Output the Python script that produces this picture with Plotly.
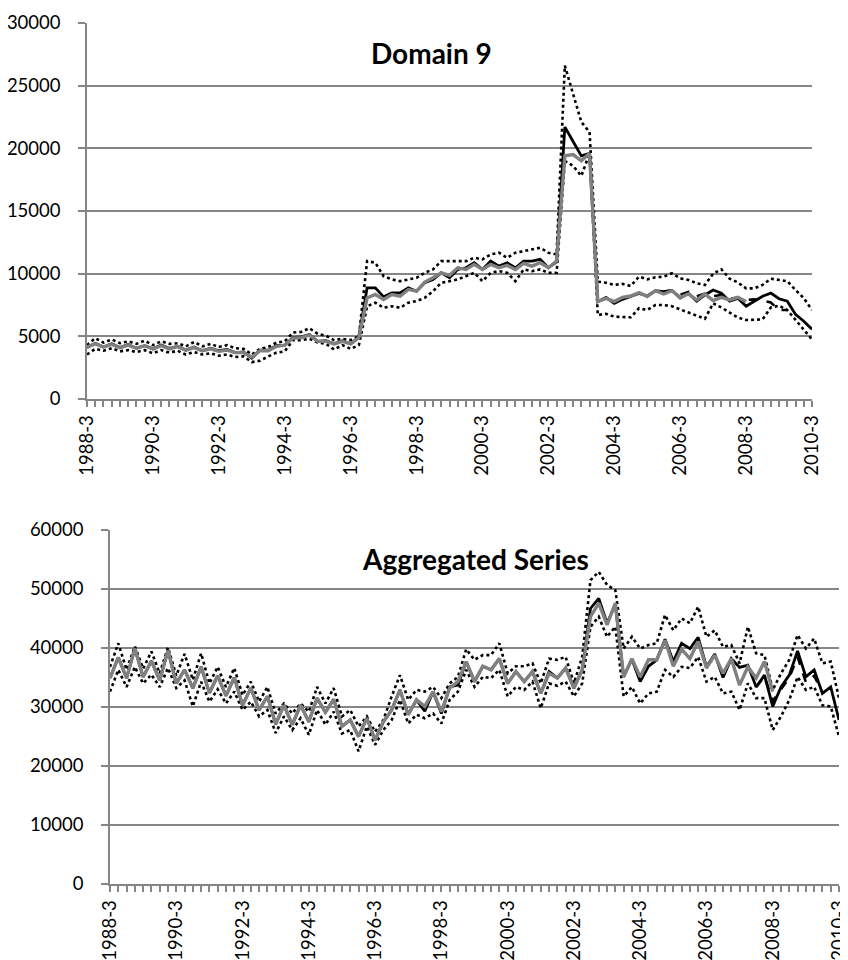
import plotly.graph_objects as go

# ---------------- categories ----------------
quarters = [f"{1988 + (q + 2) // 4}-{(q + 2) % 4 + 1}" for q in range(89)]
x_idx = list(range(len(quarters)))
label_idx = list(range(0, 89, 8))
tick_labels = [quarters[i] for i in label_idx]

# ---------------- Domain 9 ----------------
d9_black = [4100, 4450, 4150, 4400, 4100, 4350, 4050, 4250, 4000, 4300, 4050, 4200, 3900, 4150, 3850, 4050,
            3850, 3950, 3700, 3750, 3250, 3900, 3900, 4250, 4300, 4900, 4950, 5150, 4600, 4650, 4400, 4650,
            4400, 4950,
            8870, 8870, 8150, 8470, 8470, 8870, 8600, 9270, 9540, 10070, 9670, 10340, 10470, 10870, 10340,
            11000, 10600, 10870, 10470, 11000, 11000, 11140, 10470, 10930, 21700, 20500, 19400, 19600,
            7770, 8110, 7630, 7950, 8170, 8430, 8220, 8650, 8570, 8650, 8050, 8430, 7800, 8300, 8700, 8450,
            7800, 8030, 7400, 7770, 8200, 8450, 8000, 7800, 6750, 6200, 5560]
d9_gray = [4150, 4400, 4150, 4350, 4100, 4300, 4050, 4250, 4000, 4250, 4000, 4200, 3900, 4100, 3850, 4000,
           3800, 3900, 3700, 3700, 3350, 3850, 3850, 4200, 4300, 4850, 4900, 5100, 4600, 4600, 4400, 4600,
           4400, 4900,
           8070, 8340, 7940, 8340, 8200, 8740, 8600, 9330, 9670, 10070, 9860, 10470, 10340, 10740, 10340,
           10740, 10470, 10660, 10340, 10820, 10600, 10870, 10470, 11000, 19400, 19500, 19000, 19600,
           7770, 8030, 7770, 8110, 8220, 8490, 8170, 8650, 8380, 8650, 8110, 8380, 7900, 8380, 7850, 8110,
           7900, 8110, 7770] + [None] * 8
d9_upper = [4300, 4850, 4500, 4750, 4450, 4600, 4400, 4650, 4300, 4600, 4400, 4450, 4200, 4550, 4200, 4400,
            4150, 4300, 4050, 4000, 3550, 4000, 4150, 4500, 4600, 5300, 5350, 5650, 5200, 5050, 4700, 4800,
            4700, 5000,
            11000, 10870, 9800, 9540, 9400, 9540, 9670, 10070, 10340, 11000, 11000, 11000, 11000, 11270,
            11140, 11540, 11670, 11270, 11670, 11800, 11940, 12070, 11670, 11540, 26600, 24400, 22100, 21300,
            9360, 9280, 9100, 9180, 9020, 9760, 9550, 9710, 9760, 10030, 9630, 9500, 9230, 9100, 10000, 10350,
            9600, 9300, 8830, 8830, 9100, 9600, 9500, 9400, 8700, 8050, 7100]
d9_lower = [3550, 4000, 3850, 4050, 3800, 3900, 3750, 3900, 3650, 3900, 3700, 3850, 3550, 3750, 3550, 3650,
            3450, 3550, 3350, 3400, 2950, 3050, 3400, 3700, 3800, 4700, 4700, 4800, 4500, 4400, 3950, 4300,
            4000, 4300,
            7400, 7680, 7280, 7400, 7280, 7680, 7810, 8070, 8600, 9270, 9400, 9540, 9800, 10070, 9400, 10070,
            10200, 10070, 9400, 10340, 10200, 10340, 10070, 10070, 19000, 18600, 17800, 19600,
            6700, 6800, 6570, 6550, 6520, 7240, 7100, 7500, 7500, 7400, 7150, 6900, 6700, 6400, 7630, 7300,
            6900, 6500, 6300, 6300, 6350, 7300, 7450, 7100, 6300, 5500, 4750]
d9_dashed = [None] * 70 + [8570, 8650, 8300, 8550, 8200, 8400, 8200, 8300, 8000, 8100, 7900, 7950, 7850,
                           7700, 7100, 7100] + [None] * 3

# ---------------- Aggregated Series ----------------
agg_gray = [34900, 38400, 34900, 39900, 35100, 37800, 34500, 39600, 34000, 36300, 33200, 36800, 32400, 35300,
            31900, 35000, 30300, 33200, 29500, 31800, 27100, 30300, 27000, 30300, 27500, 31500, 29100, 31300,
            26700, 27800,
            25000, 28100, 24400, 27500, 29500, 32900, 28700, 31200, 30100, 32600, 29200, 33200, 34300, 37700,
            34300, 36900, 36300, 38200, 34000, 36000, 34300, 36000, 32300, 35700, 34900, 36600, 33200, 36300,
            45300, 47600, 43900, 47600, 35100, 38200, 35100, 38000, 38000, 41300, 36900, 39800, 38200, 41100,
            36600, 38800, 35700, 38200, 33700, 36800, 34900, 37700, 32600] + [None] * 8
agg_black = [34900, 38400, 34900, 39900, 35100, 37800, 34500, 39600, 34000, 36300, 33200, 36800, 32400, 35300,
             31900, 35000, 30300, 33200, 29500, 31800, 27100, 30300, 27000, 30300, 27500, 31500, 29100, 31300,
             26700, 27800,
             25000, 28100, 24400, 27500, 29500, 32900, 28700, 31200, 29300, 32600, 28900, 33400, 33700, 37700,
             34300, 36900, 36300, 38200, 34000, 36000, 34300, 36000, 32300, 36000, 34900, 36600, 33200, 36300,
             46700, 48400, 44200, 47400, 35100, 38100, 34300, 36900, 38000, 41500, 37700, 40800, 39900, 41800,
             36800, 39000, 35000, 38200, 36700, 37100, 33400, 35400, 30100, 33400, 35400, 39500, 35100, 36300,
             32300, 33400, 27800]
agg_upper = [36800, 40800, 36300, 40300, 36500, 39400, 35700, 40100, 35300, 39000, 34600, 39100, 34000, 36800,
             33400, 36600, 32000, 34300, 30900, 33400, 28900, 30600, 28900, 30600, 29200, 33400, 30600, 33200,
             28400, 29500,
             26700, 28400, 25800, 27800, 31800, 35400, 31200, 32900, 32600, 33400, 31500, 34000, 35100, 39800,
             38000, 38800, 38800, 40800, 35700, 36900, 36900, 37400, 34000, 38200, 38000, 38500, 34000, 38500,
             51500, 52900, 50700, 49800, 39900, 41900, 39900, 40500, 40800, 45600, 43000, 45000, 44200, 47000,
             41900, 43000, 40200, 40500, 37400, 43600, 39100, 38800, 32900, 35700, 38000, 42200, 39900, 41600,
             37400, 37700, 31500]
agg_lower = [32600, 36300, 33400, 36800, 34000, 35500, 33400, 36600, 33200, 34500, 30100, 34300, 30900, 33000,
             30600, 32600, 29500, 30900, 28400, 29500, 25600, 28400, 26100, 28100, 25300, 29500, 27000, 29200,
             25500, 26100,
             22500, 26700, 23600, 26100, 27800, 31200, 27200, 28700, 28100, 28900, 27200, 31200, 32600, 36300,
             33400, 35100, 34900, 36300, 31800, 33400, 32900, 34300, 29800, 34000, 33600, 34300, 31800, 34000,
             43600, 45300, 41900, 43600, 31800, 33400, 30600, 32300, 32600, 36300, 35100, 36800, 36600, 38500,
             34300, 35100, 32300, 32600, 29500, 34000, 31500, 31500, 26100, 28400, 31200, 35100, 32900, 33400,
             30300, 30100, 25000]
agg_dashed = [None] * 78 + [33400, 35200, 31000, 33000, 35000, 38500, 34200, 35300, 32500] + [None] * 2

# ---------------- styling ----------------
AXIS_GRAY = "#868686"
FONT = "Lato, Open Sans, sans-serif"

fig = go.Figure()


def add_panel(black, gray, upper, lower, dashed, xa, ya):
    common = dict(x=x_idx, mode="lines", xaxis=xa, yaxis=ya, showlegend=False, hoverinfo="skip")
    fig.add_trace(go.Scatter(y=upper, line=dict(color="black", width=2.6, dash="dot"), **common))
    fig.add_trace(go.Scatter(y=lower, line=dict(color="black", width=2.6, dash="dot"), **common))
    fig.add_trace(go.Scatter(y=dashed, line=dict(color="black", width=2.6, dash="dash"), **common))
    fig.add_trace(go.Scatter(y=black, line=dict(color="black", width=2.8), **common))
    fig.add_trace(go.Scatter(y=gray, line=dict(color="#808080", width=3.4), **common))


add_panel(d9_black, d9_gray, d9_upper, d9_lower, d9_dashed, "x", "y")
add_panel(agg_black, agg_gray, agg_upper, agg_lower, agg_dashed, "x2", "y2")

# the page body adds an 8px margin, so the figure is laid out 8px smaller and shifted
OFF = 8
W, H = 848 - OFF, 960 - OFF


def xdom(l, r):
    return [(l - OFF) / W, (r - OFF) / W]


def ydom(top, bottom):
    return [1 - (bottom - OFF) / H, 1 - (top - OFF) / H]


def px(xp, yp):
    return (xp - OFF) / W, 1 - (yp - OFF) / H


xcommon = dict(
    range=[0, 88], tickmode="array", tickvals=label_idx, ticktext=tick_labels, tickangle=-90,
    ticks="outside", ticklen=6, tickcolor=AXIS_GRAY, tickwidth=1.5, automargin=False,
    ticklabeloverflow="allow",
    showline=True, linecolor=AXIS_GRAY, linewidth=1.5, showgrid=False, zeroline=False,
    minor=dict(tick0=0, dtick=1, ticks="outside", ticklen=6, tickcolor=AXIS_GRAY, tickwidth=1.5, showgrid=False),
    tickfont=dict(family=FONT, size=18.5, color="black"), ticklabelstandoff=1,
)
ycommon = dict(
    showgrid=True, gridcolor=AXIS_GRAY, gridwidth=1.5, showline=True, linecolor=AXIS_GRAY, linewidth=1.5,
    ticks="outside", ticklen=7, tickcolor=AXIS_GRAY, tickwidth=1.5, zeroline=False, automargin=False,
    ticklabeloverflow="allow",
    tickformat="d", tickfont=dict(family=FONT, size=18.5, color="black"), ticklabelstandoff=14,
)

t1x, t1y = px(431, 53)
t2x, t2y = px(475, 559)

fig.update_layout(
    width=W, height=H, margin=dict(l=0, r=0, t=0, b=0, autoexpand=False),
    paper_bgcolor="white", plot_bgcolor="white",
    xaxis=dict(domain=xdom(87, 812), anchor="y", **xcommon),
    yaxis=dict(domain=ydom(23, 399), anchor="x", range=[0, 30000], dtick=5000, **ycommon),
    xaxis2=dict(domain=xdom(110, 839), anchor="y2", **xcommon),
    yaxis2=dict(domain=ydom(530, 884), anchor="x2", range=[0, 60000], dtick=10000, **ycommon),
    annotations=[
        dict(text="<b>Domain 9</b>", x=t1x, y=t1y, xref="paper", yref="paper", xanchor="center",
             yanchor="middle", showarrow=False, font=dict(family=FONT, size=28, color="black")),
        dict(text="<b>Aggregated Series</b>", x=t2x, y=t2y, xref="paper", yref="paper", xanchor="center",
             yanchor="middle", showarrow=False, font=dict(family=FONT, size=28, color="black")),
    ],
)

fig.write_html("out.html")
